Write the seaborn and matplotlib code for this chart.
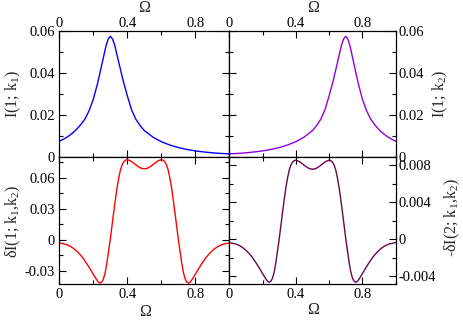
import matplotlib
matplotlib.use("Agg")
import matplotlib.pyplot as plt
import seaborn as sns
from matplotlib.ticker import FixedLocator

# ---------------- data ----------------
omega_tl = [0.0, 0.025, 0.05, 0.075, 0.1, 0.125, 0.15, 0.175, 0.2, 0.225, 0.25, 0.275, 0.2875,
            0.3, 0.3125, 0.325, 0.35, 0.375, 0.4, 0.425, 0.45, 0.475, 0.5, 0.55, 0.6, 0.65,
            0.7, 0.75, 0.8, 0.85, 0.9, 0.95, 1.0]
I1_k1 = [0.0075, 0.0085, 0.0097, 0.0112, 0.0130, 0.0153, 0.0180, 0.0220, 0.0275, 0.0350, 0.0440,
         0.0530, 0.0562, 0.0575, 0.0563, 0.0535, 0.0450, 0.0365, 0.0292, 0.0225, 0.0180, 0.0150,
         0.0126, 0.0095, 0.0073, 0.0057, 0.0045, 0.0036, 0.0029, 0.0024, 0.0020, 0.0017, 0.0015]

omega_tr = [0.0, 0.05, 0.1, 0.15, 0.2, 0.25, 0.3, 0.35, 0.4, 0.45, 0.5, 0.525, 0.55, 0.575, 0.6,
            0.625, 0.65, 0.675, 0.6875, 0.7, 0.7125, 0.725, 0.75, 0.775, 0.8, 0.825, 0.85, 0.875,
            0.9, 0.925, 0.95, 0.975, 1.0]
I1_k2 = [0.0015, 0.0017, 0.0020, 0.0024, 0.0029, 0.0036, 0.0045, 0.0057, 0.0073, 0.0095, 0.0126,
         0.0150, 0.0180, 0.0225, 0.0292, 0.0365, 0.0450, 0.0535, 0.0563, 0.0575, 0.0562, 0.0530,
         0.0440, 0.0350, 0.0275, 0.0220, 0.0180, 0.0153, 0.0130, 0.0112, 0.0097, 0.0085, 0.0075]

omega_b = [0.00, 0.02, 0.04, 0.06, 0.08, 0.10, 0.12, 0.14, 0.16, 0.18, 0.20, 0.22, 0.23, 0.24, 0.25,
           0.26, 0.27, 0.28, 0.29, 0.30, 0.31, 0.32, 0.33, 0.34, 0.35, 0.36, 0.37, 0.38, 0.39, 0.40,
           0.42, 0.44, 0.46, 0.48, 0.50,
           0.52, 0.54, 0.56, 0.58, 0.60, 0.61, 0.62, 0.63, 0.64, 0.65, 0.66, 0.67, 0.68, 0.69, 0.70,
           0.71, 0.72, 0.73, 0.74, 0.75, 0.76, 0.77, 0.78, 0.80, 0.82, 0.84, 0.86, 0.88, 0.90, 0.92,
           0.94, 0.96, 0.98, 1.00]
dI1_k1k2 = [-0.0032, -0.0038, -0.0046, -0.0060, -0.0080, -0.0107, -0.0140, -0.0180, -0.0228, -0.0280,
            -0.0335, -0.0388, -0.0410, -0.0420, -0.0410, -0.0378, -0.0318, -0.0225, -0.0110, 0.0005,
            0.0135, 0.0265, 0.0390, 0.0506, 0.0600, 0.0677, 0.0726, 0.0755, 0.0770, 0.0775,
            0.0762, 0.0738, 0.0712, 0.0692, 0.0685,
            0.0692, 0.0712, 0.0738, 0.0762, 0.0775, 0.0770, 0.0755, 0.0726, 0.0677, 0.0600, 0.0506,
            0.0390, 0.0265, 0.0135, 0.0005, -0.0110, -0.0225, -0.0318, -0.0378, -0.0410, -0.0420,
            -0.0410, -0.0388, -0.0335, -0.0280, -0.0228, -0.0180, -0.0140, -0.0107, -0.0080, -0.0060,
            -0.0046, -0.0038, -0.0032]
mdI2_k1k2 = [-0.00035, -0.00042, -0.00051, -0.00066, -0.00088, -0.00118, -0.00155, -0.00199, -0.00252,
             -0.00309, -0.00370, -0.00429, -0.00453, -0.00464, -0.00453, -0.00418, -0.00351, -0.00249,
             -0.00122, 0.00006, 0.00149, 0.00293, 0.00431, 0.00559, 0.00663, 0.00748, 0.00802, 0.00834,
             0.00851, 0.00856, 0.00842, 0.00815, 0.00787, 0.00765, 0.00757,
             0.00765, 0.00787, 0.00815, 0.00842, 0.00856, 0.00851, 0.00834, 0.00802, 0.00748, 0.00663,
             0.00559, 0.00431, 0.00293, 0.00149, 0.00006, -0.00122, -0.00249, -0.00351, -0.00418,
             -0.00453, -0.00464, -0.00453, -0.00429, -0.00370, -0.00309, -0.00252, -0.00199, -0.00155,
             -0.00118, -0.00088, -0.00066, -0.00051, -0.00042, -0.00035]

x_major = [0.0, 0.4, 0.8]
x_major_labels = ["0", "0.4", "0.8"]
x_minor = [0.2, 0.6, 1.0]

y_top_major = [0.0, 0.02, 0.04, 0.06]
y_top_labels = ["0", "0.02", "0.04", "0.06"]
y_top_minor = [0.01, 0.03, 0.05]

y_bl_major = [-0.03, 0.0, 0.03, 0.06]
y_bl_labels = ["-0.03", "0", "0.03", "0.06"]
y_bl_minor = [-0.015, 0.015, 0.045, 0.075]

y_br_major = [-0.004, 0.0, 0.004, 0.008]
y_br_labels = ["-0.004", "0", "0.004", "0.008"]
y_br_minor = [-0.002, 0.002, 0.006]

# ---------------- styling ----------------
sns.set_style("ticks")
plt.rcParams["font.family"] = ["Liberation Serif", "DejaVu Serif"]
plt.rcParams["mathtext.fontset"] = "custom"
plt.rcParams["mathtext.rm"] = "Liberation Serif"
plt.rcParams["mathtext.it"] = "Liberation Serif:italic"
plt.rcParams["axes.unicode_minus"] = False

W, H = 463, 321
fig = plt.figure(figsize=(W / 100, H / 100), dpi=100)

def px_rect(x0, y0, x1, y1):
    return [x0 / W, 1 - y1 / H, (x1 - x0) / W, (y1 - y0) / H]

ax_tl = fig.add_axes(px_rect(59.3, 31, 229.3, 157))
ax_tr = fig.add_axes(px_rect(229.3, 31, 395.7, 157))
ax_bl = fig.add_axes(px_rect(59.3, 157, 229.3, 284.3))
ax_br = fig.add_axes(px_rect(229.3, 157, 395.7, 284.3))

sns.lineplot(x=omega_tl, y=I1_k1, ax=ax_tl, color="#0000ff", linewidth=1.0, estimator=None)
sns.lineplot(x=omega_tr, y=I1_k2, ax=ax_tr, color="#9400d3", linewidth=1.0, estimator=None)
sns.lineplot(x=omega_b, y=dI1_k1k2, ax=ax_bl, color="#ff0000", linewidth=1.0, estimator=None)
sns.lineplot(x=omega_b, y=mdI2_k1k2, ax=ax_br, color="#670748", linewidth=1.0, estimator=None)

def style(ax, ylim, ymaj, ylab, ymin, top, left):
    ax.set_xlim(0, 1)
    ax.set_ylim(*ylim)
    ax.set_xticks(x_major)
    ax.set_xticklabels(x_major_labels)
    ax.xaxis.set_minor_locator(FixedLocator(x_minor))
    ax.set_yticks(ymaj)
    ax.set_yticklabels(ylab)
    ax.yaxis.set_minor_locator(FixedLocator(ymin))
    ax.set_xlabel("")
    ax.set_ylabel("")
    for s in ax.spines.values():
        s.set_visible(True)
        s.set_color("black")
        s.set_linewidth(0.9)
    ax.tick_params(axis="both", which="both", direction="in", top=True, bottom=True,
                   left=True, right=True, color="black", labelsize=10.5, labelcolor="black")
    ax.tick_params(which="major", length=5, width=0.8)
    ax.tick_params(which="minor", length=2.6, width=0.8)
    if top:
        ax.tick_params(axis="x", labeltop=True, labelbottom=False, pad=0.5)
    else:
        ax.tick_params(axis="x", labeltop=False, labelbottom=True, pad=3)
    if left:
        ax.tick_params(axis="y", labelleft=True, labelright=False, pad=3)
    else:
        ax.tick_params(axis="y", labelleft=False, labelright=True, pad=2)

style(ax_tl, (0, 0.06), y_top_major, y_top_labels, y_top_minor, True, True)
style(ax_tr, (0, 0.06), y_top_major, y_top_labels, y_top_minor, True, False)
style(ax_bl, (-0.0432, 0.080), y_bl_major, y_bl_labels, y_bl_minor, False, True)
style(ax_br, (-0.00486, 0.0089), y_br_major, y_br_labels, y_br_minor, False, False)

def ftext(x, y, s, rot=0, size=11.5):
    fig.text(x / W, 1 - y / H, s, ha="center", va="center", rotation=rot, fontsize=size)

ftext(144, 8, "Ω")
ftext(313, 8, "Ω")
ftext(145, 312, "Ω")
ftext(313, 310, "Ω")
ftext(13, 94, "I(1; k$_1$)", rot=90)
ftext(440, 94, "I(1; k$_2$)", rot=90)
ftext(13, 221, "δI(1; k$_1$,k$_2$)", rot=90)
ftext(452, 218, "-δI(2; k$_1$,k$_2$)", rot=90)

fig.savefig("out.png", dpi=100)
